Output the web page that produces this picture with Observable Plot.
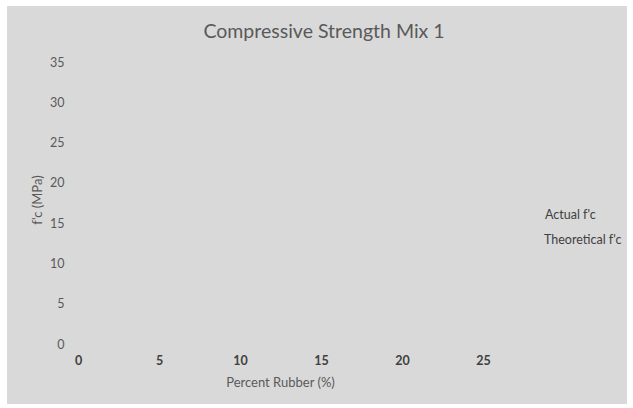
<!DOCTYPE html>
<html><head><meta charset="utf-8">
<script src="https://cdn.jsdelivr.net/npm/d3@7"></script>
<script src="https://cdn.jsdelivr.net/npm/@observablehq/plot@0.6"></script>
<style>
body{margin:0;background:#fff;}
#wrap{position:relative;width:633px;height:408px;font-family:Lato,"Open Sans",sans-serif;color:#595959;}
#bg{position:absolute;left:7px;top:6px;width:620px;height:398px;background:#d9d9d9;}
#plot{position:absolute;left:0;top:0;}
.t{position:absolute;white-space:nowrap;}
</style></head>
<body>
<div id="wrap">
  <div id="bg"></div>
  <div id="plot"></div>
  <div class="t" id="title" style="left:0;width:648px;top:19px;text-align:center;font-size:19.5px;">Compressive Strength Mix 1</div>
  <div class="t" id="xlab" style="left:180px;width:201px;top:374px;text-align:center;font-size:13px;">Percent Rubber (%)</div>
  <div class="t" id="ylab" style="left:-13px;width:100px;top:192px;text-align:center;font-size:13px;transform:rotate(-90deg);">f'c (MPa)</div>
  <div id="legend"></div>
</div>
<script>
const seriesNames = ["Actual f'c", "Theoretical f'c"];
const percentRubber = [];
const actualFc = [];
const theoreticalFc = [];
const xTicks = [0, 5, 10, 15, 20, 25];
const yTicks = [0, 5, 10, 15, 20, 25, 30, 35];

const rows = [];
percentRubber.forEach((p, i) => {
  if (actualFc[i] != null) rows.push({x: p, y: actualFc[i], s: seriesNames[0]});
  if (theoreticalFc[i] != null) rows.push({x: p, y: theoreticalFc[i], s: seriesNames[1]});
});

const chart = Plot.plot({
  width: 633, height: 408,
  marginLeft: 78, marginRight: 150, marginTop: 62, marginBottom: 64,
  style: {background: "transparent", fontFamily: "Lato, 'Open Sans', sans-serif", fontSize: "12.5px", color: "#595959"},
  x: {domain: [0, 25], ticks: xTicks, label: null},
  y: {domain: [0, 35], ticks: yTicks, label: null},
  marks: [
    Plot.axisX({ticks: xTicks, tickSize: 0, tickPadding: 12, label: null, fill: "#404040", fontWeight: "bold"}),
    Plot.axisY({ticks: yTicks, tickSize: 0, tickPadding: 14, label: null, fill: "#595959"}),
    Plot.line(rows, {x: "x", y: "y", stroke: "s"}),
    Plot.dot(rows, {x: "x", y: "y", fill: "s"})
  ]
});
document.getElementById("plot").appendChild(chart);

const legend = document.getElementById("legend");
seriesNames.forEach((n, i) => {
  const d = document.createElement("div");
  d.className = "t";
  d.style.left = (545 - i) + "px";
  d.style.top = (207 + i * 25) + "px";
  d.style.fontSize = "12.5px";
  d.style.color = "#404040";
  d.textContent = n;
  legend.appendChild(d);
});
</script>
</body></html>
